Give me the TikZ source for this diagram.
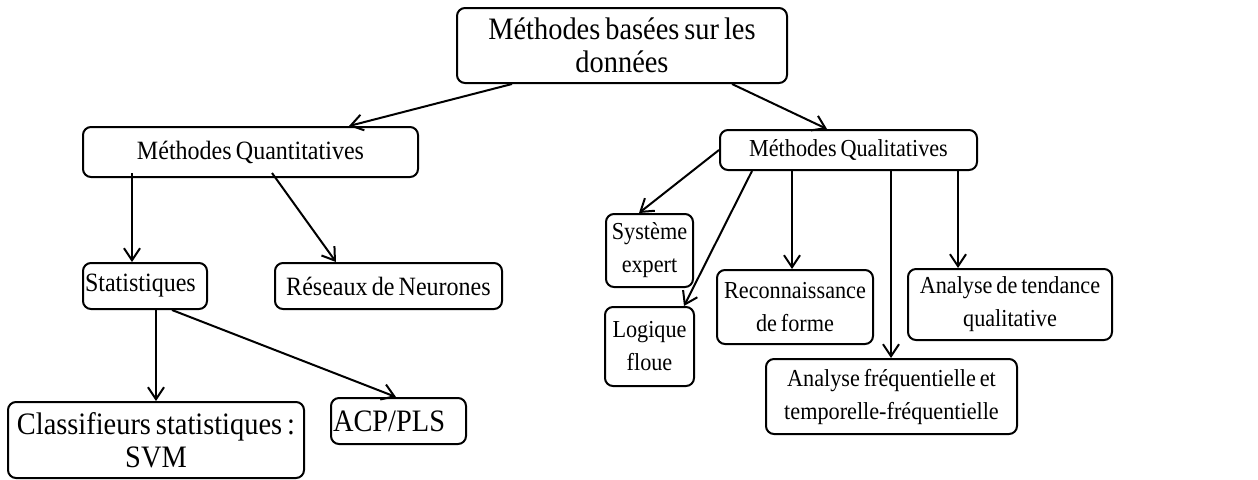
\documentclass[tikz,border=0pt]{standalone}
\usepackage{fontspec}
\setmainfont{Liberation Serif}[FakeStretch=0.91, WordSpace=0.7]
\usepackage{tikz}
\usetikzlibrary{calc,arrows.meta}
\tikzset{>={Straight Barb[length=6pt,width=8pt]}}
\tikzset{
  boite/.style={draw, line width=1pt, rounded corners=4pt, inner sep=1pt},
  grand/.style={font=\fontsize{15.6}{16.5}\selectfont},
  moyen/.style={font=\fontsize{13.2}{16.5}\selectfont},
  petit/.style={font=\fontsize{12.2}{16.5}\selectfont},
  lien/.style={->, line width=1pt}
}

\begin{document}
\begin{tikzpicture}[x=0.5pt,y=-0.5pt]
      \useasboundingbox (0,0) rectangle (1258,479);
      % niveaux 1 et 2
        \node[boite, grand, text width=163pt, minimum height=37.5pt, align=flush center] (donnees) at (622,45.5) {Méthodes basées sur les\\ données};
        \node[boite, moyen, minimum width=167.5pt, minimum height=25pt] (quanti) at (250.5,152) {Méthodes Quantitatives};
        \node[boite, petit, minimum width=128.5pt, minimum height=20pt] (quali) at (848.5,150) {Méthodes Qualitatives};
      % branche quantitative
        \node[boite, moyen, text width=60pt, minimum height=23pt, align=flush left] (stat) at (145,286) {Statistiques};
        \node[boite, moyen, minimum width=113.5pt, minimum height=23pt] (reseaux) at (388.5,286) {Réseaux de Neurones};
        \node[boite, grand, text width=146pt, minimum height=38pt, align=flush center] (classif) at (156,440) {Classifieurs statistiques :\\ SVM};
        \node[boite, grand, text width=65.5pt, minimum height=23pt, align=flush left] (acp) at (398.5,421) {ACP/PLS};
      % branche qualitative
        \node[boite, petit, text width=41.5pt, minimum height=36.5pt, align=flush center] (systeme) at (649.5,250.5) {Système\\ expert};
        \node[boite, petit, text width=42.5pt, minimum height=39.5pt, align=flush center] (logique) at (649.5,346.5) {Logique\\ floue};
        \node[boite, petit, text width=76pt, minimum height=37pt, align=flush center] (forme) at (795,307) {Reconnaissance\\ de forme};
        \node[boite, petit, text width=100pt, minimum height=35.5pt, align=flush center] (tendance) at (1010,304.5) {Analyse de tendance\\ qualitative};
        \node[boite, petit, text width=123.5pt, minimum height=37.5pt, align=flush center] (frequence) at (891.5,396.5) {Analyse fréquentielle et\\ temporelle-fréquentielle};
      % fleches
        \draw[lien] ($(donnees.south west)+(56,0)$) -- ($(quanti.north west)+(267,0)$);
        \draw[lien] ($(donnees.south west)+(276,0)$) -- ($(quali.north west)+(108,0)$);
        \draw[lien] ($(quanti.south west)+(50,-5)$) -- ($(stat.north west)+(50,0)$);
        \draw[lien] ($(quanti.south west)+(190,-5)$) -- ($(reseaux.north west)+(62,0)$);
        \draw[lien] ($(stat.south west)+(74,0)$) -- ($(classif.north west)+(149,0)$);
        \draw[lien] ($(stat.south west)+(90,0)$) -- ($(acp.north west)+(66,0)$);
        \draw[lien] (quali.west) -- ($(systeme.north west)+(34,0)$);
        \draw[lien] ($(quali.south west)+(33,0)$) -- ($(logique.north east)+(-11,0)$);
        \draw[lien] ($(quali.south west)+(73,0)$) -- ($(forme.north west)+(76,0)$);
        \draw[lien] ($(quali.south west)+(172,0)$) -- ($(frequence.north west)+(126,0)$);
        \draw[lien] ($(quali.south west)+(239,0)$) -- ($(tendance.north west)+(51,0)$);
       \end{tikzpicture}
\end{document}
